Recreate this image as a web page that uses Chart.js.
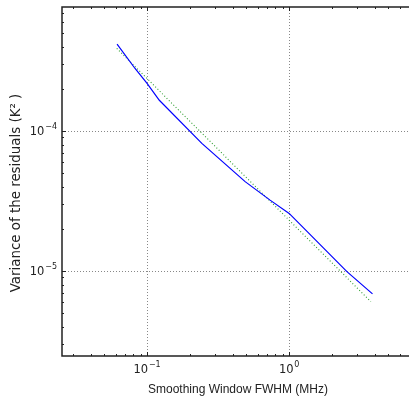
<!DOCTYPE html>
<html>
<head>
<meta charset="utf-8">
<script src="https://cdn.jsdelivr.net/npm/chart.js@4/dist/chart.umd.min.js"></script>
<style>
html,body{margin:0;padding:0;background:#fff;overflow:hidden;width:409px;height:399px;}
canvas{display:block;}
</style>
</head>
<body>
<canvas id="c" width="430" height="399"></canvas>
<script>
const residualWindow = [0.0615, 0.0823, 0.1, 0.122, 0.243, 0.49, 0.734, 1.0, 2.55, 3.86];
const residualVariance = [4.18e-4, 2.8e-4, 2.19e-4, 1.66e-4, 8.17e-5, 4.35e-5, 3.21e-5, 2.58e-5, 9.9e-6, 6.86e-6];
const fitWindow = [0.0612, 3.76];
const fitVariance = [3.9e-4, 6.04e-6];
const xTitle = 'Smoothing Window FWHM (MHz)';
const yTitle = 'Variance of the residuals (K\u00B2 )';
const xRange = [0.0252, 9.8];
const yRange = [2.47e-6, 7.7e-4];

function buildLogTicks(scale){
  const t=[];
  for(let e=-8;e<=3;e++){
    for(let m=1;m<=9;m++){
      const v=m*Math.pow(10,e);
      if(v>=scale.min*0.99999 && v<=scale.max*1.00001) t.push({value:v, major:m===1});
    }
  }
  scale.ticks=t;
}
function expText(v){
  const e=Math.round(Math.log10(v));
  return (e<0?'\u2212':'')+Math.abs(e);
}
const BASE_FONT='11.5px "DejaVu Sans", sans-serif';
const EXP_FONT='8px "DejaVu Sans", sans-serif';
function drawPower(ctx, v, xPos, baseY, align){
  const ex=expText(v);
  ctx.font=BASE_FONT; const wb=ctx.measureText('10').width;
  ctx.font=EXP_FONT; const we=ctx.measureText(ex).width;
  const gap=0.8, total=wb+gap+we;
  const x0 = align==='center' ? xPos-total/2 : xPos-total;
  ctx.textAlign='left'; ctx.textBaseline='alphabetic';
  ctx.font=BASE_FONT; ctx.fillText('10', x0, baseY);
  ctx.font=EXP_FONT; ctx.fillText(ex, x0+wb+gap, baseY-6);
}
const frame = {
  id:'frame',
  afterDraw(chart){
    const {ctx, chartArea:a, scales:{x,y}} = chart;
    ctx.save();
    ctx.strokeStyle='#222';
    ctx.lineWidth=1;
    x.ticks.forEach(t=>{
      const px=Math.round(x.getPixelForValue(t.value))+0.5;
      const L=t.major?4:2;
      ctx.beginPath();
      ctx.moveTo(px,a.bottom); ctx.lineTo(px,a.bottom-L);
      ctx.moveTo(px,a.top); ctx.lineTo(px,a.top+L);
      ctx.stroke();
    });
    y.ticks.forEach(t=>{
      const py=Math.round(y.getPixelForValue(t.value))+0.5;
      const L=t.major?4:2;
      ctx.beginPath();
      ctx.moveTo(a.left,py); ctx.lineTo(a.left+L,py);
      ctx.stroke();
    });
    ctx.lineWidth=1.5;
    ctx.beginPath();
    ctx.moveTo(a.right,a.top); ctx.lineTo(a.left,a.top); ctx.lineTo(a.left,a.bottom); ctx.lineTo(a.right,a.bottom);
    ctx.stroke();
    // tick labels (decades)
    ctx.fillStyle='#222';
    x.ticks.filter(t=>t.major).forEach(t=>{
      drawPower(ctx, t.value, x.getPixelForValue(t.value), a.bottom+16.5, 'center');
    });
    y.ticks.filter(t=>t.major).forEach(t=>{
      drawPower(ctx, t.value, a.left-5, y.getPixelForValue(t.value)+3.5, 'right');
    });
    // axis titles
    ctx.font='12px "Liberation Sans", Arial, sans-serif';
    ctx.textAlign='center';
    ctx.textBaseline='middle';
    ctx.fillText(xTitle, 238, 390);
    ctx.save();
    ctx.translate(17,193);
    ctx.rotate(-Math.PI/2);
    ctx.font='13.4px "DejaVu Sans", sans-serif';
    ctx.fillText(yTitle,0,0);
    ctx.restore();
    ctx.restore();
  }
};
new Chart(document.getElementById('c'),{
  type:'line',
  data:{
    datasets:[
      {data:residualWindow.map((v,i)=>({x:v,y:residualVariance[i]})), borderColor:'#0000ff', borderWidth:1.2, pointRadius:0, tension:0},
      {data:fitWindow.map((v,i)=>({x:v,y:fitVariance[i]})), borderColor:'#2e9e2e', borderWidth:1.1, borderDash:[1,2.2], pointRadius:0, tension:0}
    ]
  },
  options:{
    responsive:false,
    animation:false,
    layout:{padding:{top:7,left:0,right:0,bottom:0}},
    plugins:{legend:{display:false},tooltip:{enabled:false}},
    scales:{
      x:{
        type:'logarithmic', min:xRange[0], max:xRange[1],
        afterBuildTicks:buildLogTicks,
        afterFit(s){s.height=43;},
        grid:{drawTicks:false, color:c=>(c.tick&&c.tick.major)?'#888':'rgba(0,0,0,0)', lineWidth:1},
        border:{display:false, dash:[1,2]},
        ticks:{display:false}
      },
      y:{
        type:'logarithmic', min:yRange[0], max:yRange[1],
        afterBuildTicks:buildLogTicks,
        afterFit(s){s.width=62;},
        grid:{drawTicks:false, color:c=>(c.tick&&c.tick.major)?'#888':'rgba(0,0,0,0)', lineWidth:1},
        border:{display:false, dash:[1,2]},
        ticks:{display:false}
      }
    }
  },
  plugins:[frame]
});
</script>
</body>
</html>
